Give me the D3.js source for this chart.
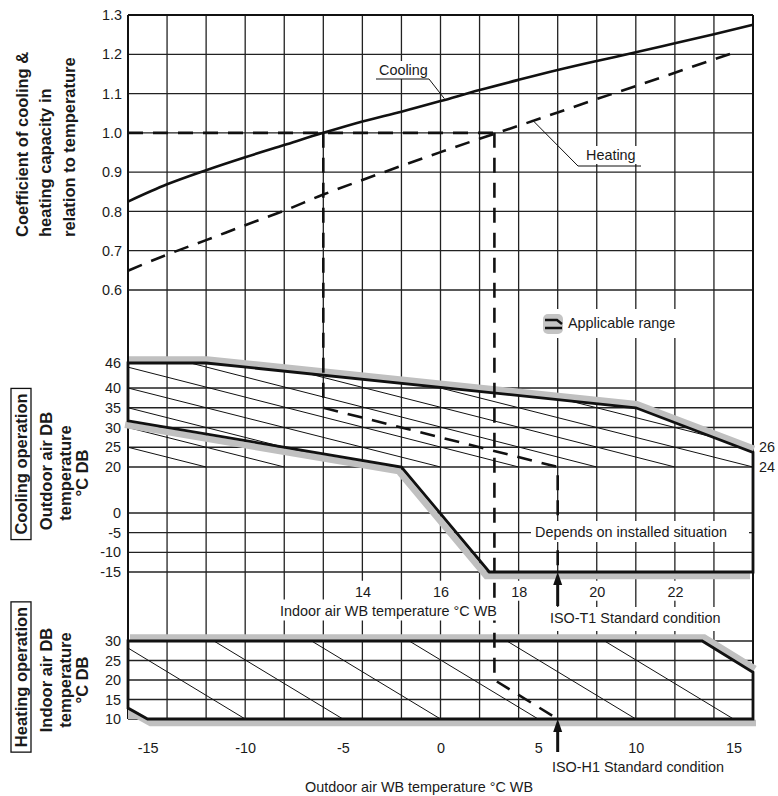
<!DOCTYPE html>
<html><head><meta charset="utf-8">
<script src="https://cdn.jsdelivr.net/npm/d3@7"></script>
<style>
body{margin:0;background:#fff}
svg{display:block}
text{font-family:"Liberation Sans",Arial,Helvetica,sans-serif;fill:#1a1a1a}
</style>
</head><body>
<svg id="c" width="778" height="796"></svg>
<script>
// ---------------- DATA ----------------
const indoorWB = [8,9,10,11,12,13,14,15,16,17,18,19,20,21,22,23,24];
const coolingCoef = [0.825,0.869,0.905,0.938,0.969,1.0,1.029,1.054,1.081,1.109,1.135,1.16,1.183,1.205,1.228,1.251,1.275];
const outdoorWB = [-16,-14,-12,-10,-8,-6,-4,-2,0,2,4,6,8,10,12,14,15.2];
const heatingCoef = [0.649,0.69,0.727,0.765,0.802,0.843,0.88,0.916,0.951,0.985,1.018,1.052,1.086,1.119,1.153,1.187,1.207];

const coefTicks = [0.6,0.7,0.8,0.9,1.0,1.1,1.2,1.3];
const coolDBTicks = [46,40,35,30,25,20,0,-5,-10,-15];
const coolDBGrid = [40,35,30,25,20,0,-5,-10,-15];
const heatDBTicks = [30,25,20,15,10];
const indoorTicks = [14,16,18,20,22];
const outdoorTicks = [-15,-10,-5,0,5,10,15];

// Cooling applicable range (indoor WB, outdoor DB)
const coolRangeUpper = [[8,46],[10,46],[21,35],[24,23.7]];
const coolRangeLower = [[8,31.7],[15,20],[17.25,-15],[24,-15]];
// Heating applicable range (outdoor WB, indoor DB)
const heatRangeUpper = [[-16,30],[13.4,30],[16,22]];
const heatRangeLower = [[-16,12.8],[-15,10],[16,10]];

// Cooling hatch lines: label w, start (WB,DB), end (WB,DB)
const coolHatchW = [10,12,14,16,18,20,22,24,26];
const coolHatchStart = [[8,25],[8,30],[8,35],[8,40],[8,45],[9.6,46],[12.67,43.33],[16,40],[19.33,36.67]];
const coolHatchEnd = [[10,20],[12,20],[14,20],[16,20],[18,20],[20,20],[22,20],[24,20],[24,25]];
// Heating hatch lines
const heatHatchStart = [[-16,28.2],[-11.6,30],[-6.6,30],[-1.6,30],[3.4,30],[8.4,30]];
const heatHatchEnd = [[-10,10],[-5,10],[0,10],[5,10],[10,10],[15,10]];

// Reading example (ISO conditions)
const isoT1IndoorWB = 19, isoT1RefDB = 20, coolReadWB = 13, coolReadDB = 35;
const isoH1OutdoorWB = 6, isoH1RefDB = 10, heatReadWB = 2.76, heatReadDB = 20;

// ---------------- SCALES ----------------
const X0 = 128, X1 = 753;
const xIn = d3.scaleLinear().domain([8,24]).range([X0,X1]);
const xOut = d3.scaleLinear().domain([-16,16]).range([X0,X1]);
const yCoef = d3.scaleLinear().domain([0.6,1.3]).range([290,15]);
const yCool = d3.scaleLinear().domain([-15,0,20,40,46]).range([572,513,467,388,363]);
const yHeat = d3.scaleLinear().domain([10,30]).range([719,641]);
const TOP = yCoef(1.3), BOT = yHeat(10);
const FS = 14.4, FONT = '"Liberation Sans",Arial,sans-serif';
const GRAY = "#c0c0c0";
const fmt = d => String(d);

const svg = d3.select("#c");

// ---------------- GRID ----------------
const grid = svg.append("g").attr("stroke","#222").attr("stroke-width",1.3);
grid.selectAll(".v").data(d3.range(9,24)).join("line")
  .attr("x1",d=>xIn(d)).attr("x2",d=>xIn(d)).attr("y1",TOP).attr("y2",BOT);
grid.selectAll(".hc").data(coefTicks).join("line").attr("class","hc")
  .attr("x1",X0).attr("x2",X1).attr("y1",d=>yCoef(d)).attr("y2",d=>yCoef(d));
grid.selectAll(".hm").data(coolDBGrid).join("line").attr("class","hm")
  .attr("x1",X0).attr("x2",X1).attr("y1",d=>yCool(d)).attr("y2",d=>yCool(d));
grid.selectAll(".hh").data(heatDBTicks).join("line").attr("class","hh")
  .attr("x1",X0).attr("x2",X1).attr("y1",d=>yHeat(d)).attr("y2",d=>yHeat(d));
// frame
const frame = svg.append("g").attr("stroke","#111").attr("stroke-width",2);
frame.append("line").attr("x1",X0).attr("x2",X1).attr("y1",TOP).attr("y2",TOP);
frame.append("line").attr("x1",X0).attr("x2",X0).attr("y1",TOP).attr("y2",BOT);
frame.append("line").attr("x1",X1).attr("x2",X1).attr("y1",TOP).attr("y2",BOT);

// ---------------- HATCH ----------------
const hatch = svg.append("g").attr("stroke","#111").attr("stroke-width",1);
hatch.selectAll(".ch").data(coolHatchW).join("line")
  .attr("x1",(d,i)=>xIn(coolHatchStart[i][0])).attr("y1",(d,i)=>yCool(coolHatchStart[i][1]))
  .attr("x2",(d,i)=>xIn(coolHatchEnd[i][0])).attr("y2",(d,i)=>yCool(coolHatchEnd[i][1]));
hatch.selectAll(".hh").data(heatHatchStart).join("line").attr("class","hh")
  .attr("x1",d=>xOut(d[0])).attr("y1",d=>yHeat(d[1]))
  .attr("x2",(d,i)=>xOut(heatHatchEnd[i][0])).attr("y2",(d,i)=>yHeat(heatHatchEnd[i][1]));

// ---------------- APPLICABLE RANGES ----------------
const lineCool = d3.line().x(d=>xIn(d[0])).y(d=>yCool(d[1]));
const lineHeat = d3.line().x(d=>xOut(d[0])).y(d=>yHeat(d[1]));
function shadow(d, tr){
  svg.append("path").attr("d",d).attr("transform",tr).attr("fill","none")
    .attr("stroke",GRAY).attr("stroke-width",6.5).attr("stroke-linejoin","miter");
}
shadow(lineCool(coolRangeUpper),"translate(1,-3.5)");
shadow(lineCool(coolRangeLower),"translate(-3,4)");
shadow(lineHeat(heatRangeUpper),"translate(2,-3.5)");
shadow(lineHeat(heatRangeLower),"translate(3,4)");
// heating corner fill
svg.append("path").attr("fill",GRAY)
  .attr("d",lineHeat([heatRangeLower[0],heatRangeLower[1],[heatRangeLower[0][0],heatRangeLower[1][1]]])+"Z");

svg.append("path").attr("fill","none").attr("stroke","#111").attr("stroke-width",2.8)
  .attr("d",lineCool(coolRangeUpper.concat(coolRangeLower.slice().reverse()))+"Z");
svg.append("path").attr("fill","none").attr("stroke","#111").attr("stroke-width",2.8)
  .attr("d",lineHeat(heatRangeUpper.concat(heatRangeLower.slice().reverse()))+"Z");

// ---------------- CURVES ----------------
svg.append("path").attr("fill","none").attr("stroke","#111").attr("stroke-width",2.6)
  .attr("d",d3.line().curve(d3.curveMonotoneX).x((d,i)=>xIn(indoorWB[i])).y(d=>yCoef(d))(coolingCoef));
svg.append("path").attr("fill","none").attr("stroke","#111").attr("stroke-width",2.6)
  .attr("stroke-dasharray","15,10")
  .attr("d",d3.line().curve(d3.curveMonotoneX).x((d,i)=>xOut(outdoorWB[i])).y(d=>yCoef(d))(heatingCoef));

// ---------------- READING EXAMPLE (dashed) ----------------
const dashed = svg.append("g").attr("fill","none").attr("stroke","#111").attr("stroke-width",2.6).attr("stroke-dasharray","15,10");
dashed.append("path").attr("d",d3.line()([[xIn(8),yCoef(1)],[xOut(heatReadWB),yCoef(1)]]));
dashed.append("path").attr("d",d3.line()([
  [xIn(coolReadWB),yCoef(1)],[xIn(coolReadWB),yCool(coolReadDB)],
  [xIn(isoT1IndoorWB),yCool(isoT1RefDB)],[xIn(isoT1IndoorWB),yCool(-15)]]));
dashed.append("path").attr("d",d3.line()([
  [xOut(heatReadWB),yCoef(1)],[xOut(heatReadWB),yHeat(heatReadDB)],
  [xOut(isoH1OutdoorWB),yHeat(isoH1RefDB)]]));

// arrows
function arrowUp(x, tipY, tailY){
  svg.append("line").attr("x1",x).attr("x2",x).attr("y1",tipY+8).attr("y2",tailY)
    .attr("stroke","#111").attr("stroke-width",3);
  svg.append("path").attr("fill","#111")
    .attr("d",`M${x},${tipY} L${x-4.5},${tipY+13} L${x+4.5},${tipY+13} Z`);
}

// ---------------- LABEL HELPERS ----------------
function label(x, y, str, opts={}){
  const g = svg.append("g");
  const t = g.append("text").attr("x",x).attr("y",y).text(str)
    .attr("font-size",opts.fs||FS).attr("text-anchor",opts.anchor||"start");
  if(opts.bg){
    const b = t.node().getBBox(); const p = opts.pad||[3,2,3,2];
    g.insert("rect","text").attr("x",b.x-p[0]).attr("y",b.y-p[1])
      .attr("width",b.width+p[0]+p[2]).attr("height",b.height+p[1]+p[3]).attr("fill","#fff");
  }
  return t;
}

label(535,537,"Depends on installed situation",{bg:true,pad:[4,3,22,2]});
label(550,623,"ISO-T1 Standard condition",{bg:true,pad:[3,3,3,5]});
label(388.5,615.5,"Indoor air WB temperature °C WB",{bg:true,anchor:"middle",pad:[3,3,3,2]});
arrowUp(xIn(isoT1IndoorWB), yCool(-15), 606);
arrowUp(xOut(isoH1OutdoorWB), yHeat(10), 752);
label(552,772,"ISO-H1 Standard condition");
label(419,792,"Outdoor air WB temperature °C WB",{anchor:"middle"});

// Curve labels with leaders
label(379,75,"Cooling",{bg:true,pad:[2,1,2,1]});
svg.append("path").attr("fill","none").attr("stroke","#111").attr("stroke-width",1)
  .attr("d",d3.line()([[376,79],[429,79],[xIn(16.1),yCoef(1.087)]]));
label(586,160,"Heating",{bg:true,pad:[2,1,2,1]});
svg.append("path").attr("fill","none").attr("stroke","#111").attr("stroke-width",1)
  .attr("d",d3.line()([[641,166],[578,166],[xOut(4.7),yCoef(1.033)]]));

// Legend
const lg = svg.append("g").attr("transform","translate(543,314)");
lg.append("rect").attr("x",-4).attr("y",-5).attr("width",140).attr("height",29).attr("fill","#fff");
lg.append("rect").attr("x",0).attr("y",0).attr("width",20).attr("height",20).attr("rx",5).attr("fill","#c4c4c4");
lg.append("path").attr("fill","none").attr("stroke","#111").attr("stroke-width",2.4)
  .attr("d","M2,6 H14 L19,10 M19,14 H2");
lg.append("text").attr("x",25).attr("y",14).attr("font-size",FS).text("Applicable range");

// ---------------- AXES ----------------
function styleAxis(g){
  g.select(".domain").remove();
  g.attr("font-size",FS).attr("font-family",FONT);
  g.selectAll("text").attr("fill","#1a1a1a");
}
svg.append("g").attr("transform",`translate(${X0},0)`)
  .call(d3.axisLeft(yCoef).tickValues(coefTicks).tickFormat(d3.format(".1f")).tickSize(0).tickPadding(6)).call(styleAxis);
svg.append("g").attr("transform",`translate(${X0},0)`)
  .call(d3.axisLeft(yCool).tickValues(coolDBTicks).tickFormat(fmt).tickSize(0).tickPadding(7)).call(styleAxis);
svg.append("g").attr("transform",`translate(${X0},0)`)
  .call(d3.axisLeft(yHeat).tickValues(heatDBTicks).tickFormat(fmt).tickSize(0).tickPadding(7)).call(styleAxis);
const inAx = svg.append("g").attr("transform",`translate(0,${yCool(-15)})`)
  .call(d3.axisBottom(xIn).tickValues(indoorTicks).tickFormat(fmt).tickSize(0).tickPadding(14.5)).call(styleAxis);
inAx.selectAll(".tick").each(function(){
  const t = d3.select(this).select("text"); const b = t.node().getBBox();
  d3.select(this).insert("rect","text").attr("x",b.x-3).attr("y",b.y-3).attr("width",b.width+6).attr("height",b.height+4).attr("fill","#fff");
});
svg.append("g").attr("transform",`translate(0,${BOT})`)
  .call(d3.axisBottom(xOut).tickValues(outdoorTicks).tickFormat(fmt).tickSize(0).tickPadding(24)).call(styleAxis);

// hatch-line end labels on the right edge
coolHatchW.forEach((w,i)=>{
  if(coolHatchEnd[i][0]===24){
    svg.append("text").attr("x",X1+6).attr("y",yCool(coolHatchEnd[i][1])).attr("dy","0.35em")
      .attr("font-size",FS).text(w);
  }
});

// ---------------- LEFT TITLES ----------------
function vtext(x, y, str, anchor, boxed){
  const g = svg.append("g").attr("transform",`translate(${x},${y}) rotate(-90)`);
  const t = g.append("text").attr("text-anchor",anchor).attr("font-size",16.5).attr("font-weight","bold").text(str);
  if(boxed){
    const b = t.node().getBBox();
    g.insert("rect","text").attr("x",b.x-5).attr("y",b.y-1).attr("width",b.width+10).attr("height",b.height+2)
      .attr("fill","none").attr("stroke","#111").attr("stroke-width",1.3);
  }
}
vtext(27.5,237,"Coefficient of cooling &","start");
vtext(51,237,"heating capacity in","start");
vtext(75,237,"relation to temperature","start");

vtext(27,464,"Cooling operation","middle",true);
vtext(52,471,"Outdoor air DB","middle");
vtext(71,473,"temperature","middle");
vtext(87.5,473,"°C DB","middle");

vtext(27,677,"Heating operation","middle",true);
vtext(52,680,"Indoor air DB","middle");
vtext(71,680,"temperature","middle");
vtext(87.5,680,"°C DB","middle");
</script>
</body></html>
